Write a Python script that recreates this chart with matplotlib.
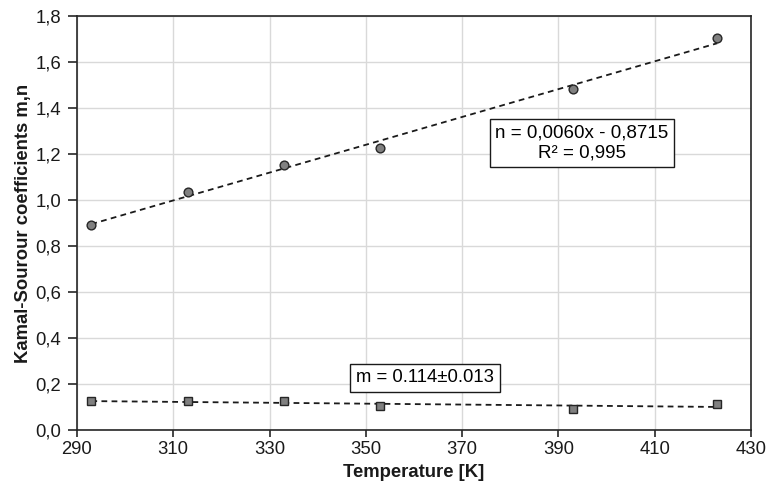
import numpy as np
import matplotlib
matplotlib.use("Agg")
import matplotlib.pyplot as plt

plt.rcParams['font.family'] = ['Liberation Sans', 'DejaVu Sans']

temperature = [293, 313, 333, 353, 393, 423]
n_values = [0.893, 1.033, 1.151, 1.225, 1.482, 1.704]
m_values = [0.125, 0.125, 0.126, 0.103, 0.092, 0.112]

x_ticks = [290, 310, 330, 350, 370, 390, 410, 430]
y_ticks = [0.0, 0.2, 0.4, 0.6, 0.8, 1.0, 1.2, 1.4, 1.6, 1.8]
y_tick_labels = ["0,0", "0,2", "0,4", "0,6", "0,8", "1,0", "1,2", "1,4", "1,6", "1,8"]

n_label = "n = 0,0060x - 0,8715\nR² = 0,995"
m_label = "m = 0.114±0.013"

fig = plt.figure(figsize=(7.69, 4.93), dpi=100)
ax = fig.add_axes([0.100, 0.128, 0.8766, 0.8395])

x = np.array(temperature, dtype=float)
xs = np.array([x.min(), x.max()])
for vals in (n_values, m_values):
    p = np.polyfit(x, np.array(vals), 1)
    ax.plot(xs, np.polyval(p, xs), color='#1a1a1a', lw=1.3,
            linestyle=(0, (3.2, 2.4)), zorder=2)

ax.plot(temperature, n_values, 'o', ms=6.3, mfc='#808080', mec='#262626',
        mew=1.0, zorder=3)
ax.plot(temperature, m_values, 's', ms=6.0, mfc='#808080', mec='#262626',
        mew=1.0, zorder=3)

ax.set_xlim(290, 430)
ax.set_ylim(0, 1.8)
ax.set_xticks(x_ticks)
ax.set_xticklabels([str(t) for t in x_ticks])
ax.set_yticks(y_ticks)
ax.set_yticklabels(y_tick_labels)
ax.grid(True, color='#d9d9d9', lw=1.0, zorder=0)
ax.set_axisbelow(True)
for s in ax.spines.values():
    s.set_color('#262626')
    s.set_linewidth(1.2)
ax.tick_params(axis='both', direction='out', width=1.2,
               color='#262626', labelsize=13.3, labelcolor='#1a1a1a')
ax.tick_params(axis='x', length=5, pad=3)
ax.tick_params(axis='y', length=6.5, pad=5)

ax.set_xlabel("Temperature [K]", fontsize=13.3, fontweight='bold', labelpad=4,
              color='#1a1a1a')
ax.set_ylabel("Kamal-Sourour coefficients m,n", fontsize=13.3, fontweight='bold',
              color='#1a1a1a')
ax.yaxis.set_label_coords(-0.0665, 0.5)

box = dict(boxstyle='square,pad=0.3', fc='white', ec='#1a1a1a', lw=1.0)
ax.text(394.9, 1.2465, n_label, ha='center', va='center', fontsize=13.5,
        linespacing=1.2, bbox=box, zorder=4)
ax.text(362.3, 0.227, m_label, ha='center', va='center', fontsize=13.3,
        bbox=box, zorder=4)

fig.savefig("out.png", dpi=100)
